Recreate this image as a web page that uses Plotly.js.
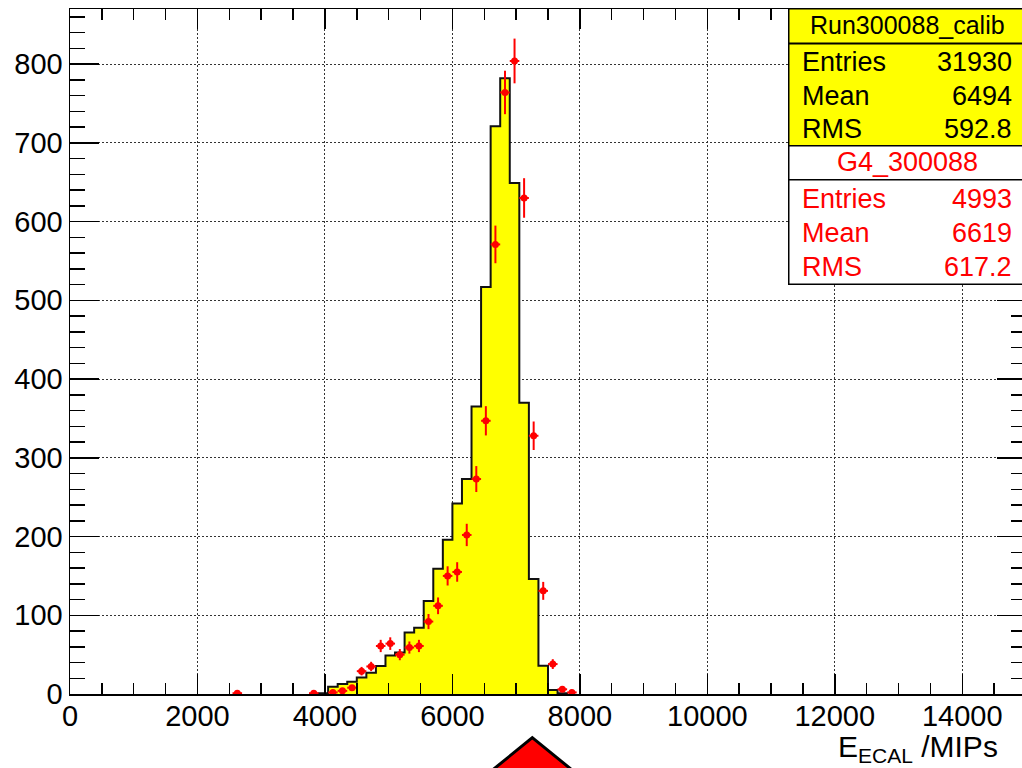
<!DOCTYPE html>
<html>
<head>
<meta charset="utf-8">
<script src="https://cdn.plot.ly/plotly-3.0.1.min.js"></script>
<style>
html, body { margin:0; padding:0; overflow:hidden; background:#fff; }
#plot { width:1030px; height:768px; }
</style>
</head>
<body>
<div id="plot"></div>
<script>
// ---- data ----
const binWidth = 150;
// Run300088_calib (yellow filled histogram, bin centres)
const calibCenters = [3975, 4125, 4275, 4425, 4575, 4725, 4875, 5025, 5175, 5325, 5475, 5625, 5775,
                      5925, 6075, 6225, 6375, 6525, 6675, 6825, 6975, 7125, 7275, 7425, 7575, 7725];
const calibCounts  = [1, 9.3, 12.7, 15.7, 20.8, 27, 35.6, 48.8, 52.6, 78, 84, 118, 159,
                      196, 242, 273, 365, 517, 721, 782, 649, 370, 146, 36, 5, 1];
// G4_300088 (red points with errors, bin centres)
const g4Centers = [2625, 3825, 4125, 4275, 4425, 4575, 4725, 4875, 5025, 5175, 5325, 5475, 5625, 5775,
                   5925, 6075, 6225, 6375, 6525, 6675, 6825, 6975, 7125, 7275, 7425, 7575, 7725, 7875];
const g4Counts  = [1, 1, 2, 4, 8, 29, 35, 61, 64, 50, 59, 61, 92, 112,
                   150, 155, 202, 273, 347, 571, 764, 804, 630, 328, 131, 38, 6, 2];
const g4Errors  = [1, 1, 1.4, 2, 2.8, 5.4, 5.9, 7.8, 8, 7.1, 7.7, 7.8, 9.6, 10.6,
                   12.2, 12.4, 14.2, 16.5, 18.6, 23.9, 27.6, 28.4, 25.1, 18.1, 11.4, 6.2, 2.4, 1.4];
// statistics boxes
const calibStatName = "Run300088_calib";
const g4StatName = "G4_300088";
const statLabels = ["Entries", "Mean", "RMS"];
const calibStats = ["31930", "6494", "592.8"];
const g4Stats = ["4993", "6619", "617.2"];
const xTitle = "E<sub>ECAL</sub> /MIPs";

// ---- build step outline from bins ----
const stepX = [], stepY = [];
stepX.push(calibCenters[0] - binWidth / 2); stepY.push(0);
calibCenters.forEach((c, i) => { stepX.push(c - binWidth / 2); stepY.push(calibCounts[i]); });
const lastEdge = calibCenters[calibCenters.length - 1] + binWidth / 2;
stepX.push(lastEdge); stepY.push(calibCounts[calibCounts.length - 1]);
stepX.push(lastEdge); stepY.push(0);

const traces = [
  {
    type: 'scatter', mode: 'lines', x: stepX, y: stepY,
    line: { shape: 'hv', color: '#111', width: 2 },
    fill: 'tozeroy', fillcolor: '#ffff00',
    hoverinfo: 'skip', showlegend: false
  },
  {
    type: 'scatter', mode: 'markers', x: g4Centers, y: g4Counts,
    marker: { color: '#ff0000', size: 7 },
    error_y: { type: 'data', array: g4Errors, color: '#ff0000', thickness: 2, width: 0 },
    error_x: { type: 'constant', value: binWidth / 2, color: '#ff0000', thickness: 2, width: 0 },
    showlegend: false
  }
];

// pixel -> paper helpers for the plot area (x 70..1026, y 9..694)
const px = p => (p - 70) / 956;
const py = p => (694 - p) / 685;

const shapes = [
  // red triangle marker below the axis
  { type: 'path', xref: 'paper', yref: 'paper',
    path: 'M ' + px(532.3) + ',' + py(737.7) + ' L ' + px(467.9) + ',' + py(790) + ' L ' + px(596.7) + ',' + py(790) + ' Z',
    fillcolor: '#ff0000', line: { color: '#000', width: 3 }, layer: 'above' }
];

const fontFam = '"Liberation Sans", Arial, Helvetica, sans-serif';
const annotations = [];
function box(top, bottom, fill) {
  annotations.push({ text: ' ', xref: 'paper', yref: 'paper', x: px(788), y: py(top),
    xanchor: 'left', yanchor: 'top', width: 260, height: bottom - top - 1.5,
    bgcolor: fill, bordercolor: '#000', borderwidth: 1.5, borderpad: 0, showarrow: false });
}
box(8, 42.5, '#ffff00');
box(42.5, 145, '#ffff00');
box(145, 179, '#ffffff');
box(179, 283, '#ffffff');

function ann(text, xp, yp, anchor, color, size) {
  annotations.push({ text: text, xref: 'paper', yref: 'paper', x: px(xp), y: py(yp),
    xanchor: anchor, yanchor: 'middle', showarrow: false,
    font: { family: fontFam, size: size, color: color } });
}
ann(calibStatName, 907, 25, 'center', '#000', 25);
const rowsA = [62, 96, 129];
statLabels.forEach((l, i) => { ann(l, 800, rowsA[i], 'left', '#000', 27); ann(calibStats[i], 1014, rowsA[i], 'right', '#000', 27); });
ann(g4StatName, 907, 162, 'center', '#ff0000', 27);
const rowsB = [199, 233, 267];
statLabels.forEach((l, i) => { ann(l, 800, rowsB[i], 'left', '#ff0000', 27); ann(g4Stats[i], 1014, rowsB[i], 'right', '#ff0000', 27); });
ann(xTitle, 1000, 748, 'right', '#000', 30);

const layout = {
  width: 1030, height: 768,
  margin: { l: 70, r: 4, t: 9, b: 74 },
  paper_bgcolor: '#fff', plot_bgcolor: '#fff',
  font: { family: fontFam, color: '#000' },
  xaxis: {
    range: [0, 15000], dtick: 2000, tick0: 0, tickformat: 'd',
    ticks: 'inside', ticklen: 20, tickwidth: 1.5, tickcolor: '#000',
    minor: { dtick: 500, ticks: 'inside', ticklen: 11, tickwidth: 1.5, tickcolor: '#000', showgrid: false },
    showline: true, linecolor: '#000', linewidth: 1.5, mirror: 'allticks',
    showgrid: true, gridcolor: '#333', griddash: '1.5px,2.5px', gridwidth: 1,
    zeroline: false, ticklabelstandoff: -4,
    tickfont: { family: fontFam, size: 29, color: '#000' }
  },
  yaxis: {
    range: [0, 870], dtick: 100, tick0: 0,
    ticks: 'inside', ticklen: 29, tickwidth: 1.5, tickcolor: '#000',
    minor: { dtick: 20, ticks: 'inside', ticklen: 15, tickwidth: 1.5, tickcolor: '#000', showgrid: false },
    showline: true, linecolor: '#000', linewidth: 1.5, mirror: 'allticks',
    showgrid: true, gridcolor: '#333', griddash: '1.5px,2.5px', gridwidth: 1,
    zeroline: false,
    tickfont: { family: fontFam, size: 29, color: '#000' }
  },
  shapes: shapes,
  annotations: annotations,
  showlegend: false
};

Plotly.newPlot('plot', traces, layout, { displayModeBar: false, staticPlot: true });
</script>
</body>
</html>
